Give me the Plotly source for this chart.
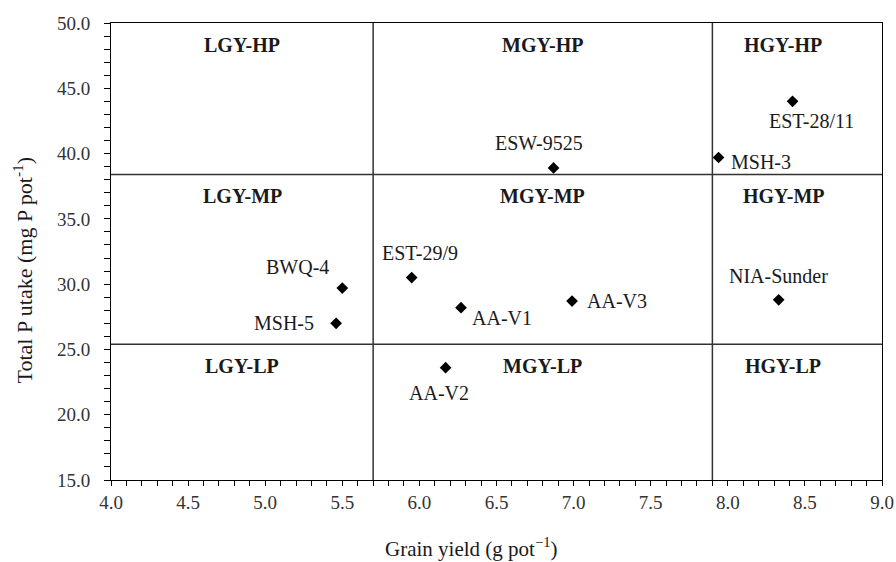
import plotly.graph_objects as go

genotypes = ["ESW-9525", "EST-28/11", "MSH-3", "BWQ-4", "MSH-5", "EST-29/9",
             "AA-V1", "AA-V3", "NIA-Sunder", "AA-V2"]
grain_yield = [6.87, 8.42, 7.94, 5.50, 5.46, 5.95, 6.27, 6.99, 8.33, 6.17]
p_uptake = [38.9, 44.0, 39.7, 29.7, 27.0, 30.5, 28.2, 28.7, 28.8, 23.6]

yield_bounds = [5.7, 7.9]
uptake_bounds = [25.4, 38.4]
region_cols = ["LGY", "MGY", "HGY"]
region_rows = ["HP", "MP", "LP"]

# label placement (pixel offsets) : xanchor, xshift, yshift
label_pos = {
    "ESW-9525": ("center", -15, 25),
    "EST-28/11": ("center", 19, -20),
    "MSH-3": ("left", 10, -5),
    "BWQ-4": ("center", -45, 21),
    "MSH-5": ("right", -20, 0),
    "EST-29/9": ("center", 8, 25),
    "AA-V1": ("left", 9, -10),
    "AA-V3": ("left", 13, 0),
    "NIA-Sunder": ("center", 0, 24),
    "AA-V2": ("center", -7, -25),
}

FONT = "Liberation Serif, Times New Roman, serif"
TXT = "#1a1a1a"
xmin, xmax, ymin, ymax = 4.0, 9.0, 15.0, 50.0

fig = go.Figure()
fig.add_trace(go.Scatter(
    x=grain_yield, y=p_uptake, mode="markers",
    marker=dict(symbol="diamond", size=9, color="black"),
    showlegend=False, hoverinfo="text", text=genotypes))

line_col = "#333333"
for xv in yield_bounds:
    fig.add_shape(type="line", x0=xv, x1=xv, y0=ymin, y1=ymax, xref="x", yref="y",
                  line=dict(color=line_col, width=1.5))
for yv in uptake_bounds:
    fig.add_shape(type="line", x0=xmin, x1=xmax, y0=yv, y1=yv, xref="x", yref="y",
                  line=dict(color=line_col, width=1.5))

annotations = []
for name, gx, py in zip(genotypes, grain_yield, p_uptake):
    xa, xs, ys = label_pos[name]
    annotations.append(dict(x=gx, y=py, xref="x", yref="y", text=name, showarrow=False,
                            xanchor=xa, yanchor="middle", xshift=xs, yshift=ys,
                            font=dict(family=FONT, size=20, color=TXT)))

col_edges = [xmin] + yield_bounds + [xmax]
row_tops = [ymax, uptake_bounds[1], uptake_bounds[0]]
col_centers = [(col_edges[i] + col_edges[i + 1]) / 2 for i in range(3)]
col_centers[2] -= 0.09
for ci, c in enumerate(region_cols):
    for ri, r in enumerate(region_rows):
        annotations.append(dict(x=col_centers[ci], y=row_tops[ri], xref="x", yref="y",
                                text=f"<b>{c}-{r}</b>", showarrow=False,
                                xanchor="center", yanchor="top", yshift=-9,
                                font=dict(family=FONT, size=20, color=TXT)))

# axis titles
annotations.append(dict(x=0.5, y=0, xref="paper", yref="paper", showarrow=False,
                        text="Grain yield (g pot<sup>−1</sup>)", xanchor="center",
                        yanchor="middle", xshift=-25, yshift=-67,
                        font=dict(family=FONT, size=21, color=TXT)))
annotations.append(dict(x=0, y=0.5, xref="paper", yref="paper", showarrow=False,
                        text="Total P utake (mg P pot<sup>-1</sup>)", textangle=-90,
                        xanchor="center", yanchor="middle", xshift=-89, yshift=-19,
                        font=dict(family=FONT, size=22, color=TXT)))

fig.update_layout(
    width=896, height=562,
    margin=dict(l=111, r=14, t=23, b=82),
    paper_bgcolor="white", plot_bgcolor="white",
    font=dict(family=FONT, size=19, color=TXT),
    annotations=annotations,
    xaxis=dict(range=[xmin, xmax], dtick=0.5, tick0=4.0, tickformat=".1f",
               automargin=False,
               showgrid=False, zeroline=False, showline=True, linecolor="black",
               linewidth=1, mirror=True, ticks="outside", ticklen=5, tickcolor="black",
               minor=dict(dtick=0.1, ticks="outside", ticklen=5, tickcolor="black"),
               tickfont=dict(family=FONT, size=19, color="#333333")),
    yaxis=dict(range=[ymin, ymax], dtick=5, tick0=15, tickformat=".1f",
               automargin=False, ticklabelstandoff=10,
               showgrid=False, zeroline=False, showline=True, linecolor="black",
               linewidth=1, mirror=True, ticks="outside", ticklen=6, tickcolor="black",
               minor=dict(dtick=1, ticks="outside", ticklen=6, tickcolor="black"),
               tickfont=dict(family=FONT, size=19, color="#333333")),
)

fig.write_html("out.html", config={"displayModeBar": False},
               post_script="document.body.style.margin='0';document.body.style.overflow='hidden';")
